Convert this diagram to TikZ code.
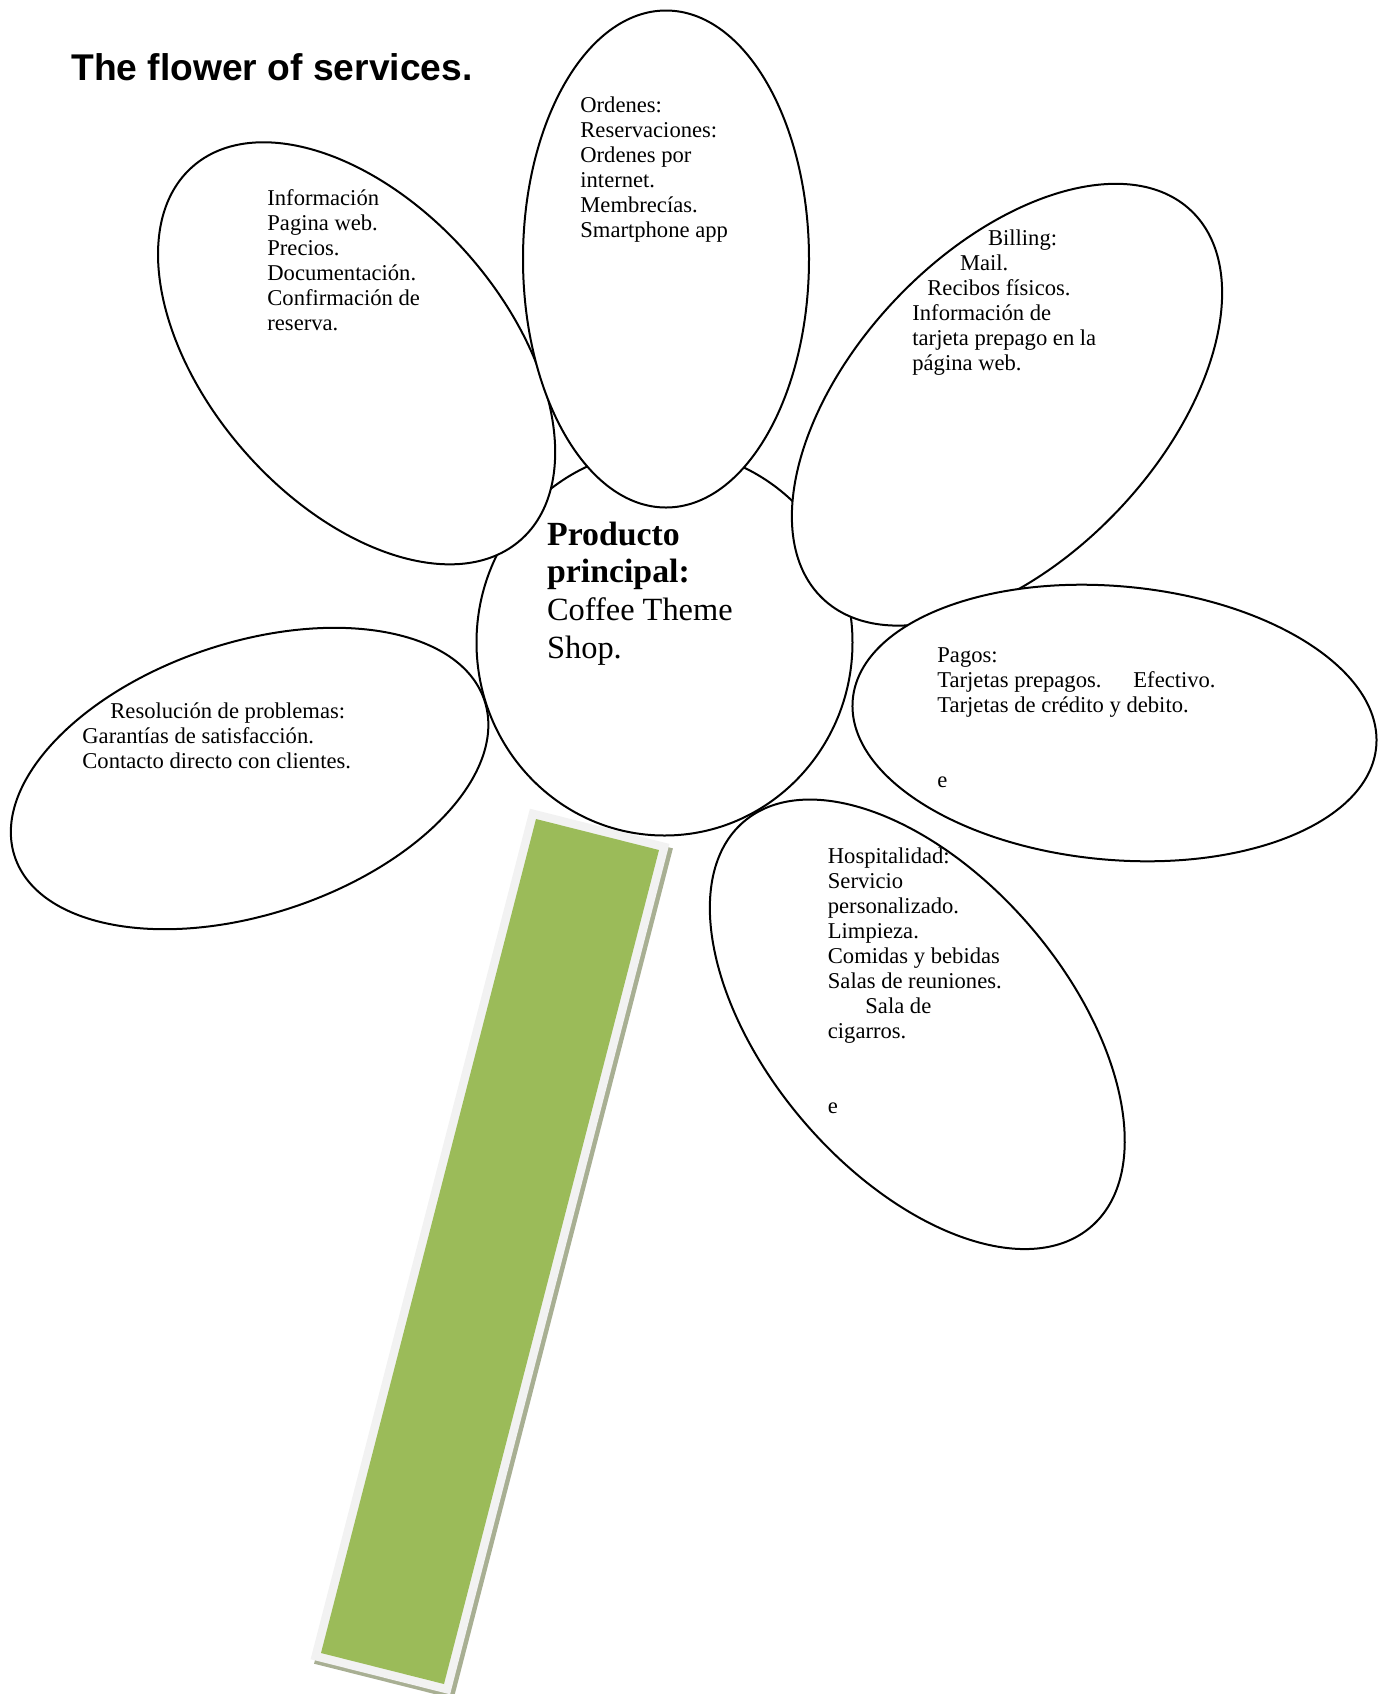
\documentclass[tikz,border=0pt]{standalone}
\usepackage{fontspec}
\setmainfont{Liberation Serif}
\newfontfamily\titlefont{Liberation Sans}
\definecolor{stemgreen}{HTML}{9BBB59}
\definecolor{stemborder}{HTML}{F2F2F2}
\definecolor{stemshadow}{HTML}{A8AF93}
\begin{document}
\begin{tikzpicture}[x=0.5pt,y=-0.5pt,
  petal/.style={draw=black, line width=1pt, fill=white},
  txt/.style={anchor=base west, inner sep=0pt, font=\fontsize{11.3}{12.5}\selectfont},
  coretxt/.style={anchor=base west, inner sep=0pt, font=\fontsize{16.2}{18.9}\selectfont},
  titletxt/.style={anchor=base west, inner sep=0pt, font=\titlefont\fontsize{18.6}{22}\selectfont\bfseries}
]
\useasboundingbox (0,0) rectangle (1383,1694);

% stem
\fill[stemshadow] (533.4,813.2) -- (672.9,848.4) -- (453.6,1698.8) -- (314.1,1663.7) -- cycle;
\fill[stemborder] (529.9,808.7) -- (669.4,843.9) -- (450.1,1694.3) -- (310.6,1659.2) -- cycle;
\fill[stemgreen] (536,819) -- (659,850) -- (444,1684) -- (321,1653) -- cycle;

% centre
\draw[petal] (664.5,642.5) ellipse [x radius=94pt, y radius=96.5pt];

% petals
\draw[petal, rotate around={-48.7:(356.6,353.3)}] (356.6,353.3) ellipse [x radius=124.25pt, y radius=74.5pt];
\draw[petal] (666,259) ellipse [x radius=71.5pt, y radius=124.25pt];
\draw[petal, rotate around={46.5:(1007,404.7)}] (1007,404.7) ellipse [x radius=133.75pt, y radius=76.65pt];
\draw[petal, rotate around={-5.15:(1114.5,723)}] (1114.5,723) ellipse [x radius=131.4pt, y radius=68.4pt];
\draw[petal, rotate around={-49.4:(917.3,1024.3)}] (917.3,1024.3) ellipse [x radius=133.4pt, y radius=74.75pt];
\draw[petal, rotate around={18.4:(249.6,778.5)}] (249.6,778.5) ellipse [x radius=123.75pt, y radius=67.9pt];

% texts
\node[titletxt] (title) at (71,80) {The flower of services.};

\node[txt] (info) at (267,205) {\begin{tabular}[t]{@{}l@{}}Información\\Pagina web.\\Precios.\\Documentación.\\Confirmación de\\reserva.\end{tabular}};

\node[txt] (ordenes) at (580,112) {\begin{tabular}[t]{@{}l@{}}Ordenes:\\Reservaciones:\\Ordenes por\\internet.\\Membrecías.\\Smartphone app\end{tabular}};

\node[txt] (billing) at (912,245) {\begin{tabular}[t]{@{}l@{}}\hspace*{37.8pt}Billing:\\\hspace*{23.8pt}Mail.\\\hspace*{7.5pt}Recibos físicos.\\Información de\\tarjeta prepago en la\\página web.\end{tabular}};

\node[txt] (pagos) at (937,662) {\begin{tabular}[t]{@{}l@{}}Pagos:\\\makebox[98pt][l]{Tarjetas prepagos.}Efectivo.\\Tarjetas de crédito y debito.\\ \\ \\e\end{tabular}};

\node[txt] (hosp) at (827.5,863) {\begin{tabular}[t]{@{}l@{}}Hospitalidad:\\Servicio\\personalizado.\\Limpieza.\\Comidas y bebidas\\Salas de reuniones.\\\hspace*{18.75pt}Sala de\\cigarros.\\ \\ \\e\end{tabular}};

\node[txt] (resol) at (82,718) {\begin{tabular}[t]{@{}l@{}}\hspace*{14pt}Resolución de problemas:\\Garantías de satisfacción.\\Contacto directo con clientes.\end{tabular}};

\node[coretxt] (core) at (546.7,545) {\begin{tabular}[t]{@{}l@{}}{\fontsize{16.9}{18.9}\selectfont\bfseries Producto}\\{\fontsize{16.9}{18.9}\selectfont\bfseries principal:}\\Coffee Theme\\Shop.\end{tabular}};
\end{tikzpicture}
\end{document}
